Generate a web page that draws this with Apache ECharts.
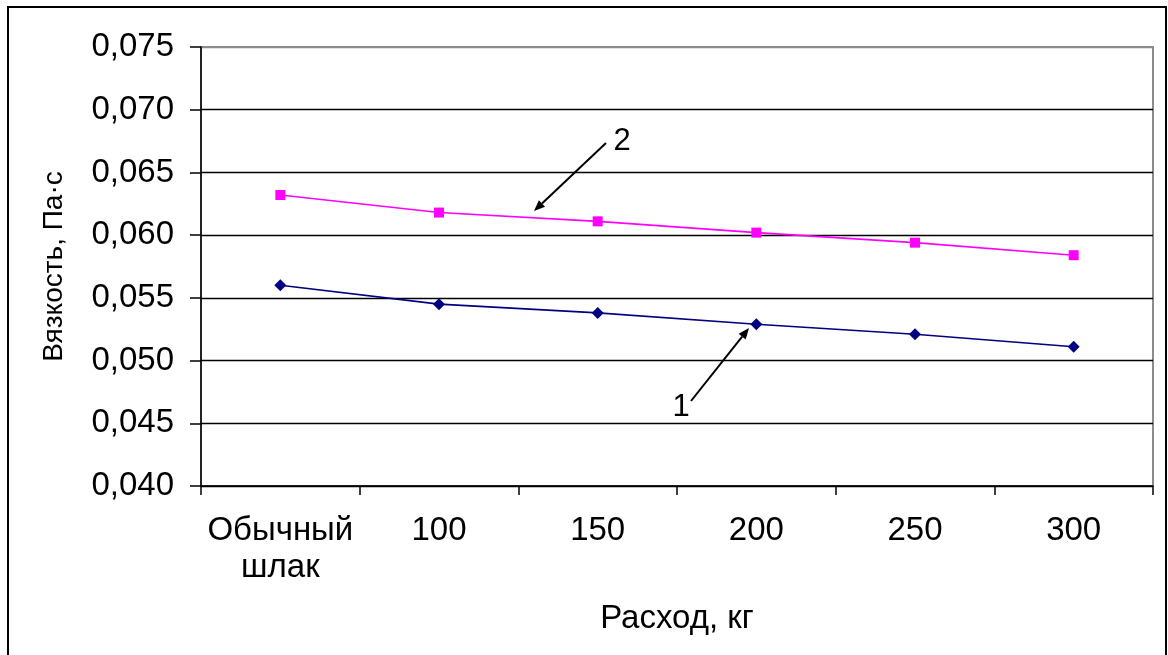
<!DOCTYPE html>
<html>
<head>
<meta charset="utf-8">
<script src="https://cdn.jsdelivr.net/npm/echarts@6/dist/echarts.min.js"></script>
<style>
  html, body { margin: 0; padding: 0; background: #fff; }
  #chart { width: 1168px; height: 655px; }
</style>
</head>
<body>
<div id="chart"></div>
<script>
// Slag consumption categories (x axis)
const categories = ['Обычный\nшлак', '100', '150', '200', '250', '300'];
// Viscosity, Pa·s — curve 1 (navy, diamonds)
const viscosity1 = [0.0560, 0.0545, 0.0538, 0.0529, 0.0521, 0.0511];
// Viscosity, Pa·s — curve 2 (magenta, squares)
const viscosity2 = [0.0632, 0.0618, 0.0611, 0.0602, 0.0594, 0.0584];
// Y axis range and step
const yMin = 0.040, yMax = 0.075, yStep = 0.005;

const FONT = "'Liberation Sans', Arial, sans-serif";
const chart = echarts.init(document.getElementById('chart'), null, { renderer: 'canvas' });

// Arrow with a small filled head, pointing from (x1,y1) to (x2,y2)
function arrow(x1, y1, x2, y2) {
  const ang = Math.atan2(y2 - y1, x2 - x1);
  const len = 11, half = 4.5;
  const bx = x2 - len * Math.cos(ang), by = y2 - len * Math.sin(ang);
  const px = -Math.sin(ang) * half, py = Math.cos(ang) * half;
  return [
    { type: 'line', shape: { x1, y1, x2: bx, y2: by }, style: { stroke: '#000', lineWidth: 2 }, z: 100 },
    { type: 'polygon', shape: { points: [[x2, y2], [bx + px, by + py], [bx - px, by - py]] },
      style: { fill: '#000' }, z: 100 }
  ];
}

// Split lines: black inside, the top edge takes the grey plot frame colour
const nSplit = Math.round((yMax - yMin) / yStep) + 1;
const splitColors = [];
for (let i = 0; i < nSplit; i++) splitColors.push(i === nSplit - 1 ? '#8c8c8c' : '#000');

chart.setOption({
  backgroundColor: '#fff',
  animation: false,
  grid: {
    left: 201, right: 15, top: 47, bottom: 169,
    show: true, borderColor: '#8c8c8c', borderWidth: 2, backgroundColor: 'transparent'
  },
  xAxis: {
    type: 'category',
    data: categories,
    boundaryGap: true,
    name: 'Расход, кг',
    nameLocation: 'middle',
    nameGap: 116,
    nameTextStyle: { fontFamily: FONT, fontSize: 33, color: '#000' },
    axisLine: { lineStyle: { color: '#000', width: 1.5 } },
    axisTick: { show: true, alignWithLabel: false, length: 9, lineStyle: { color: '#000', width: 1.5 } },
    axisLabel: { fontFamily: FONT, fontSize: 33, color: '#000', margin: 26, lineHeight: 37, interval: 0 },
    splitLine: { show: false }
  },
  yAxis: {
    type: 'value',
    min: yMin, max: yMax, interval: yStep,
    name: 'Вязкость, Па·с',
    nameLocation: 'middle',
    nameGap: 133,
    nameTextStyle: { fontFamily: FONT, fontSize: 28, color: '#000' },
    axisLine: { show: true, lineStyle: { color: '#000', width: 1.5 } },
    axisTick: { show: true, length: 11, lineStyle: { color: '#000', width: 1.5 } },
    axisLabel: {
      fontFamily: FONT, fontSize: 33, color: '#000', margin: 27,
      formatter: v => v.toFixed(3).replace('.', ',')
    },
    splitLine: { show: true, lineStyle: { color: splitColors, width: 1.3 } }
  },
  series: [
    {
      name: '1', type: 'line', data: viscosity1,
      symbol: 'diamond', symbolSize: 12,
      lineStyle: { color: '#000080', width: 1.6 },
      itemStyle: { color: '#000080' },
      z: 5
    },
    {
      name: '2', type: 'line', data: viscosity2,
      symbol: 'rect', symbolSize: 10,
      lineStyle: { color: '#ff00ff', width: 1.6 },
      itemStyle: { color: '#ff00ff' },
      z: 5
    }
  ],
  graphic: [
    // outer chart frame
    { type: 'rect', shape: { x: 8, y: 7, width: 1158, height: 660 },
      style: { fill: 'none', stroke: '#000', lineWidth: 2 }, z: 100 },
    // callout for curve 2
    ...arrow(606, 143, 534, 211),
    { type: 'text', x: 622, y: 141, style: { text: '2', font: `31px ${FONT}`, fill: '#000',
      textAlign: 'center', textVerticalAlign: 'middle' }, z: 100 },
    // callout for curve 1
    ...arrow(691, 401, 749, 328),
    { type: 'text', x: 681, y: 407, style: { text: '1', font: `31px ${FONT}`, fill: '#000',
      textAlign: 'center', textVerticalAlign: 'middle' }, z: 100 }
  ]
});
</script>
</body>
</html>
